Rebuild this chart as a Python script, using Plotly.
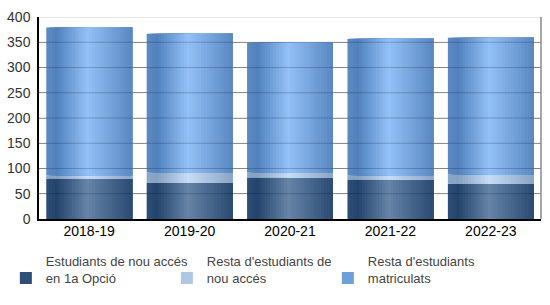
import plotly.graph_objects as go

categories = ["2018-19", "2019-20", "2020-21", "2021-22", "2022-23"]
nou_acces_1a = [80, 72, 82, 78, 70]
resta_nou_acces = [6, 20, 10, 8, 18]
resta_matriculats = [293, 275, 257, 271, 271]

series = [
    ("Estudiants de nou accés<br>en 1a Opció", nou_acces_1a,
     [(0.0, "#2d4e77"), (0.12, "#23446c"), (0.48, "#6684a8"), (1.0, "#2a4a72")], 0.2),
    ("Resta d'estudiants de<br>nou accés", resta_nou_acces,
     [(0.0, "#8ca7c7"), (0.12, "#86a1c1"), (0.48, "#c6ddf6"), (1.0, "#89a4c4")], 0.7),
    ("Resta d'estudiants<br>matriculats", resta_matriculats,
     [(0.0, "#5c8ac3"), (0.12, "#5282be"), (0.48, "#93c1f7"), (1.0, "#5987c1")], 0.3),
]


def hex2rgb(h):
    h = h.lstrip("#")
    return [int(h[i:i + 2], 16) for i in (0, 2, 4)]


def grad(stops, t):
    for (t0, c0), (t1, c1) in zip(stops, stops[1:]):
        if t0 <= t <= t1:
            f = (t - t0) / (t1 - t0)
            a, b = hex2rgb(c0), hex2rgb(c1)
            return "rgb(%d,%d,%d)" % tuple(round(a[k] + (b[k] - a[k]) * f) for k in range(3))
    return stops[-1][1]


W = 0.855
N = 30
step = W / N

fig = go.Figure()
base = [0] * len(categories)
for name, vals, stops, legt in series:
    legend_idx = int(legt * (N - 1))
    for i in range(N):
        t = (i + 0.5) / N
        fig.add_trace(go.Bar(
            x=categories, y=vals, base=base,
            offset=-W / 2 + i * step,
            width=W - i * step,
            marker=dict(color=grad(stops, t), line=dict(width=0)),
            name=name, legendgroup=name,
            showlegend=(i == legend_idx),
            hoverinfo="skip",
        ))
    base = [b + v for b, v in zip(base, vals)]

# gridline overlay (visible on top of bars)
shapes = []
for yv in range(50, 401, 50):
    shapes.append(dict(type="line", xref="paper", yref="y", x0=0, x1=1, y0=yv, y1=yv,
                       line=dict(color="rgba(0,0,0,0.2)", width=1), layer="above"))
shapes.append(dict(type="line", xref="paper", yref="y", x0=1, x1=1, y0=0, y1=400,
                   line=dict(color="#8a8a8a", width=1.5), layer="above"))

fig.update_layout(
    width=550, height=305,
    margin=dict(l=39, r=9, t=17, b=86, autoexpand=False),
    paper_bgcolor="white", plot_bgcolor="white",
    barmode="overlay",
    font=dict(family="Liberation Sans, Arial, sans-serif", size=14, color="#333"),
    shapes=shapes,
    xaxis=dict(
        type="category", range=[-0.5, 4.5],
        showline=True, linecolor="black", linewidth=1.5,
        showgrid=False, ticks="", tickfont=dict(size=14, color="black"),
        ticklabelstandoff=-2,
    ),
    yaxis=dict(
        range=[0, 400], tickvals=list(range(0, 401, 50)),
        showline=True, linecolor="black", linewidth=1.5,
        showgrid=True, gridcolor="#a8a8a8", gridwidth=1,
        zeroline=False, ticks="", tickfont=dict(size=14, color="#333"),
        ticklabelstandoff=4,
    ),
    legend=dict(
        orientation="h", x=-0.066, xanchor="left",
        y=-0.135, yanchor="top",
        font=dict(size=13, color="#444"),
        entrywidth=116, entrywidthmode="pixels",
        itemclick=False, traceorder="normal",
        valign="bottom",
    ),
    showlegend=True,
)
fig.write_html("out.html")
